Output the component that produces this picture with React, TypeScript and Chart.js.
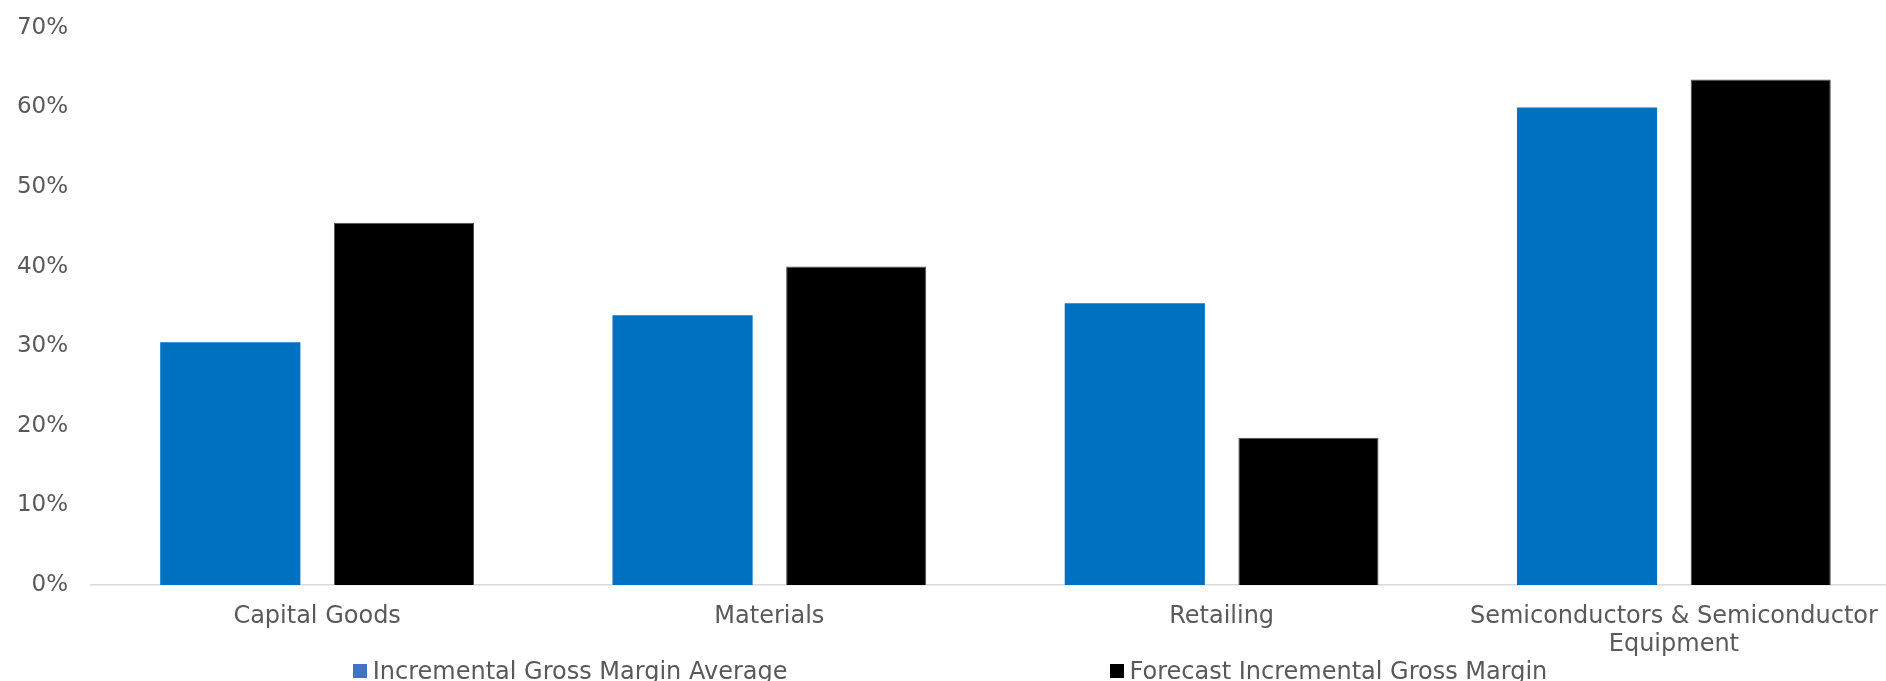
import React, { useEffect, useRef } from "react";
import { Chart, registerables } from "chart.js";

Chart.register(...registerables);

const categories: (string | string[])[] = [
  "Capital Goods",
  "Materials",
  "Retailing",
  ["Semiconductors & Semiconductor", "Equipment"],
];
const averageValues = [30.5, 33.9, 35.4, 60.0];
const forecastValues = [45.5, 40.0, 18.5, 63.5];
const seriesNames = ["Incremental Gross Margin Average", "Forecast Incremental Gross Margin"];
const yMax = 70;
const yStep = 10;

const FONT = "'DejaVu Sans', sans-serif";
const TEXT = "#595959";
const BLUE = "#0070C0";
const LEGEND_BLUE = "#4472C4";
const BLACK = "#000000";

export default function App() {
  const ref = useRef<HTMLCanvasElement | null>(null);

  useEffect(() => {
    if (!ref.current) return;
    const chart = new Chart(ref.current, {
      type: "bar",
      data: {
        labels: categories,
        datasets: [
          {
            label: seriesNames[0],
            data: averageValues,
            backgroundColor: BLUE,
            borderWidth: 0,
            categoryPercentage: 0.768,
            barPercentage: 0.807,
          },
          {
            label: seriesNames[1],
            data: forecastValues,
            backgroundColor: BLACK,
            borderColor: "#505050",
            borderWidth: 1,
            categoryPercentage: 0.768,
            barPercentage: 0.807,
          },
        ],
      },
      options: {
        animation: false,
        responsive: false,
        devicePixelRatio: 1,
        layout: { padding: { top: 0, left: 0, right: 0, bottom: 0 } },
        plugins: {
          legend: { display: false },
          tooltip: { enabled: false },
        },
        scales: {
          x: {
            grid: { display: false, drawTicks: false },
            border: { display: true, color: "#D9D9D9", width: 1.5 },
            ticks: {
              color: TEXT,
              font: { family: FONT, size: 24, lineHeight: 1.2 },
              padding: 17,
              maxRotation: 0,
              autoSkip: false,
            },
            afterFit: (scale: any) => {
              scale.height = 96;
            },
          },
          y: {
            min: 0,
            max: yMax,
            grid: { display: false, drawTicks: false },
            border: { display: false },
            ticks: {
              stepSize: yStep,
              color: TEXT,
              font: { family: FONT, size: 23, lineHeight: 0.42 },
              padding: 23,
              callback: (v: any) => `${v}%`,
            },
            afterFit: (scale: any) => {
              scale.width = 91;
            },
          },
        },
      },
    });
    return () => chart.destroy();
  }, []);

  const legendColors = [LEGEND_BLUE, BLACK];

  return (
    <div
      style={{
        position: "fixed",
        left: 0,
        top: 0,
        width: 1886,
        height: 681,
        overflow: "hidden",
        background: "#ffffff",
      }}
    >
      <div style={{ position: "relative", width: 1900, height: 681 }}>
        <canvas ref={ref} width={1900} height={681} style={{ display: "block", width: 1900, height: 681 }} />
        <div
          style={{
            position: "absolute",
            left: 0,
            top: 658,
            width: 1900,
            height: 26,
            display: "flex",
            justifyContent: "center",
            alignItems: "center",
            gap: 322,
            fontFamily: FONT,
            fontSize: 24,
            color: TEXT,
            whiteSpace: "nowrap",
          }}
        >
          {seriesNames.map((name, i) => (
            <div key={name} style={{ display: "flex", alignItems: "center" }}>
              <span
                style={{
                  display: "inline-block",
                  width: 14,
                  height: 14,
                  background: legendColors[i],
                  marginRight: 6,
                }}
              />
              <span style={{ lineHeight: "26px" }}>{name}</span>
            </div>
          ))}
        </div>
      </div>
    </div>
  );
}
